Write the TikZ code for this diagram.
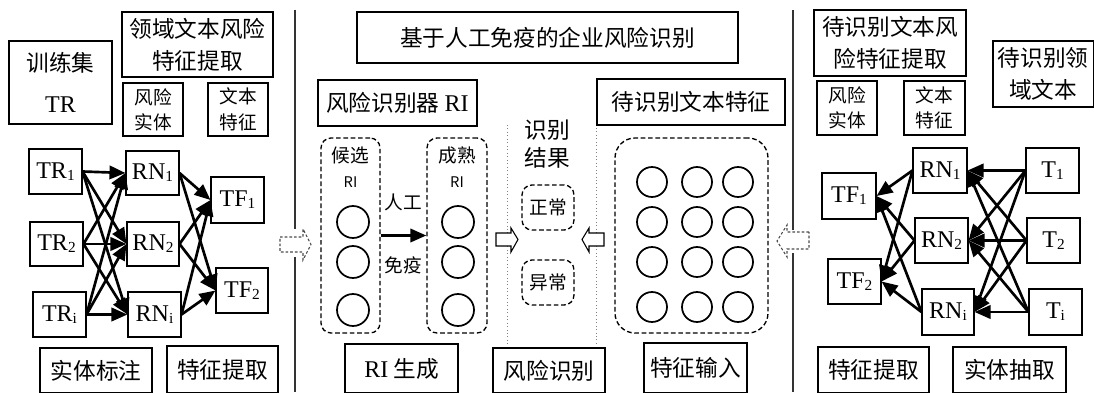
\documentclass[tikz,border=0pt]{standalone}
\usepackage{fontspec}
\setmainfont{Liberation Serif}
\newfontfamily\cjk{Noto Sans CJK SC}
\usetikzlibrary{arrows.meta}
\newcommand\sbs[1]{\raisebox{-1.5pt}{\fontsize{11.5}{11.5}\selectfont #1}}
\newcommand\mybox[7][]{\node[box,#1,minimum width={(#5-#3)*0.75pt},minimum height={(#6-#4)*0.75pt}] (#2) at ({(#3+#5)/2},{(#4+#6)/2}) {#7};}
\tikzset{
  x=0.75pt, y=-0.75pt,
  box/.style={draw, line width=0.8pt, inner sep=0pt, align=center, font=\cjk\fontsize{17}{24}\selectfont},
  small/.style={font=\cjk\fontsize{14}{19}\selectfont},
  lat/.style={font=\rmfamily\fontsize{18}{22}\selectfont},
  dbox/.style={dashed, dash pattern=on 3.5pt off 2pt, line width=1pt, rounded corners=7.5pt},
  circ/.style={draw, circle, line width=1.3pt, minimum size=24pt, inner sep=0pt},
  gcirc/.style={draw, circle, line width=1.3pt, minimum size=22.5pt, inner sep=0pt},
  lbl/.style={inner sep=0pt, align=center, font=\cjk\fontsize{14}{19}\selectfont},
  con/.style={line width=2pt, -{Triangle[length=12pt,width=10pt]}},
  hollow/.style={draw, line width=0.8pt, fill=white},
  dasharrow/.style={draw=black!70, dashed, dash pattern=on 2pt off 1.5pt, line width=0.8pt, fill=white},
  divider/.style={line width=0.8pt, black!80},
  dotline/.style={line width=0.6pt, gray, dotted},
}
\begin{document}
\begin{tikzpicture}
\useasboundingbox (0,0) rectangle (1094,392);
% ---------- left part ----------
\mybox{trset}{9}{41}{112}{124}{训练集\\[7pt]{\rmfamily\fontsize{18}{22}\selectfont TR}}
\mybox{lyfx}{122}{12}{273}{77}{领域文本风险\\特征提取}
\mybox[small]{lfxst}{123}{83}{183}{136}{风险\\实体}
\mybox[small]{lwbtz}{208}{83}{268}{136}{文本\\特征}
\mybox[lat]{tr1}{29}{149}{82}{194}{TR\sbs{1}}
\mybox[lat]{tr2}{30}{222}{83}{266}{TR\sbs{2}}
\mybox[lat]{tri}{33}{292}{86}{337}{TR\sbs{i}}
\mybox[lat]{rn1}{126}{151}{179}{195}{RN\sbs{1}}
\mybox[lat]{rn2}{127}{222}{179}{266}{RN\sbs{2}}
\mybox[lat]{rni}{128}{292}{181}{337}{RN\sbs{i}}
\mybox[lat]{tf1}{211}{177}{264}{223}{TF\sbs{1}}
\mybox[lat]{tf2}{216}{268}{268}{313}{TF\sbs{2}}
\mybox{stbz}{40}{348}{152}{393}{实体标注}
\mybox{ltztq}{167}{346}{278}{393}{特征提取}
\foreach \a in {tr1,tr2,tri}{\foreach \b in {rn1,rn2,rni}{\draw[con] (\a.east) -- (\b.west);}}
\foreach \a in {rn1,rn2,rni}{\foreach \b in {tf1,tf2}{\draw[con] (\a.east) -- (\b.west);}}
% left divider
\draw[divider] (295,10) -- (295,229);
\draw[divider] (295,257) -- (295,392);
\draw[dasharrow] (280,237) -- (303,237) -- (303,229) -- (311,244.5) -- (303,260) -- (303,252) -- (280,252) -- cycle;
% ---------- middle part ----------
\mybox{title}{357}{12}{738}{63}{基于人工免疫的企业风险识别}
\mybox{rir}{318}{80}{477}{126}{风险识别器 {\rmfamily\fontsize{18}{22}\selectfont RI}}
\mybox[dbox]{cand}{321}{138}{380}{333}{}
\mybox[dbox]{mat}{427}{138}{487}{333}{}
\node[lbl] (candt) at (350.5,155) {候选};
\node[lbl, font=\cjk\fontsize{11}{13}\selectfont] (candri) at (350.5,182) {RI};
\node[lbl] (matt) at (457,155) {成熟};
\node[lbl, font=\cjk\fontsize{11}{13}\selectfont] (matri) at (457,182) {RI};
\node[circ] (ca) at (353,222) {};
\node[circ] (cb) at (353,262) {};
\node[circ] (cc) at (353,310) {};
\node[circ] (ma) at (458,222) {};
\node[circ] (mb) at (458,262) {};
\node[circ] (mc) at (458,310) {};
\draw[con] (cand.east) -- (mat.west);
\node[lbl] (rg) at (403,202) {人工};
\node[lbl] (my) at (403,265) {免疫};
\draw[dotline] (507,125) -- (507,345);
\draw[dotline] (596,128) -- (596,345);
\node[lbl, font=\cjk\fontsize{17}{21}\selectfont] (sbjg) at (547,144) {识别\\结果};
\mybox[dbox,small]{zc}{522}{185}{574}{230}{正常}
\mybox[dbox,small]{yc}{522}{260}{574}{305}{异常}
\draw[hollow] (496,233) -- (511,233) -- (511,228) -- (518,239.5) -- (511,252) -- (511,246) -- (496,246) -- cycle;
\draw[hollow] (604,233) -- (589,233) -- (589,228) -- (582,239.5) -- (589,252) -- (589,246) -- (604,246) -- cycle;
\mybox{risc}{345}{344}{458}{393}{{\rmfamily\fontsize{18}{22}\selectfont RI} 生成}
\mybox{fxsb}{493}{348}{605}{393}{风险识别}
\mybox{dsbtz}{597}{79}{785}{125}{待识别文本特征}
\mybox[dbox,rounded corners=15pt]{feat}{615}{138}{768}{333}{}
\foreach \x [count=\i] in {652,697,738}{\foreach \y [count=\j] in {182,222,262,307}{\node[gcirc] (g\i\j) at (\x,\y) {};}}
\mybox{tzsr}{644}{343}{747}{393}{特征输入}
% right divider
\draw[divider] (793,10) -- (793,230);
\draw[divider] (793,253) -- (793,392);
\draw[dasharrow] (809,232) -- (787,232) -- (787,225) -- (777,241) -- (787,257) -- (787,249) -- (809,249) -- cycle;
% ---------- right part ----------
\mybox{rtitle}{814}{10}{966}{76}{待识别文本风\\险特征提取}
\mybox{rdom}{993}{41}{1093.5}{107}{待识别领\\域文本}
\mybox[small]{rfxst}{817}{81}{877}{135}{风险\\实体}
\mybox[small]{rwbtz}{904}{81}{965}{135}{文本\\特征}
\mybox[lat]{rrn1}{913}{148}{967}{193}{RN\sbs{1}}
\mybox[lat]{rrn2}{915}{218}{968}{263}{RN\sbs{2}}
\mybox[lat]{rrni}{922}{289}{974}{335}{RN\sbs{i}}
\mybox[lat]{rt1}{1026}{148}{1079}{193}{T\sbs{1}}
\mybox[lat]{rt2}{1027}{218}{1080}{263}{T\sbs{2}}
\mybox[lat]{rti}{1029}{289}{1082}{335}{T\sbs{i}}
\mybox[lat]{rtf1}{822}{173}{876}{219}{TF\sbs{1}}
\mybox[lat]{rtf2}{828}{259}{881}{304}{TF\sbs{2}}
\mybox{rtztq}{818}{347}{929}{393}{特征提取}
\mybox{rstcq}{953}{347}{1066}{393}{实体抽取}
\foreach \a in {rt1,rt2,rti}{\foreach \b in {rrn1,rrn2,rrni}{\draw[con] (\a.west) -- (\b.east);}}
\foreach \a in {rrn1,rrn2,rrni}{\foreach \b in {rtf1,rtf2}{\draw[con] (\a.west) -- (\b.east);}}
\end{tikzpicture}
\end{document}
